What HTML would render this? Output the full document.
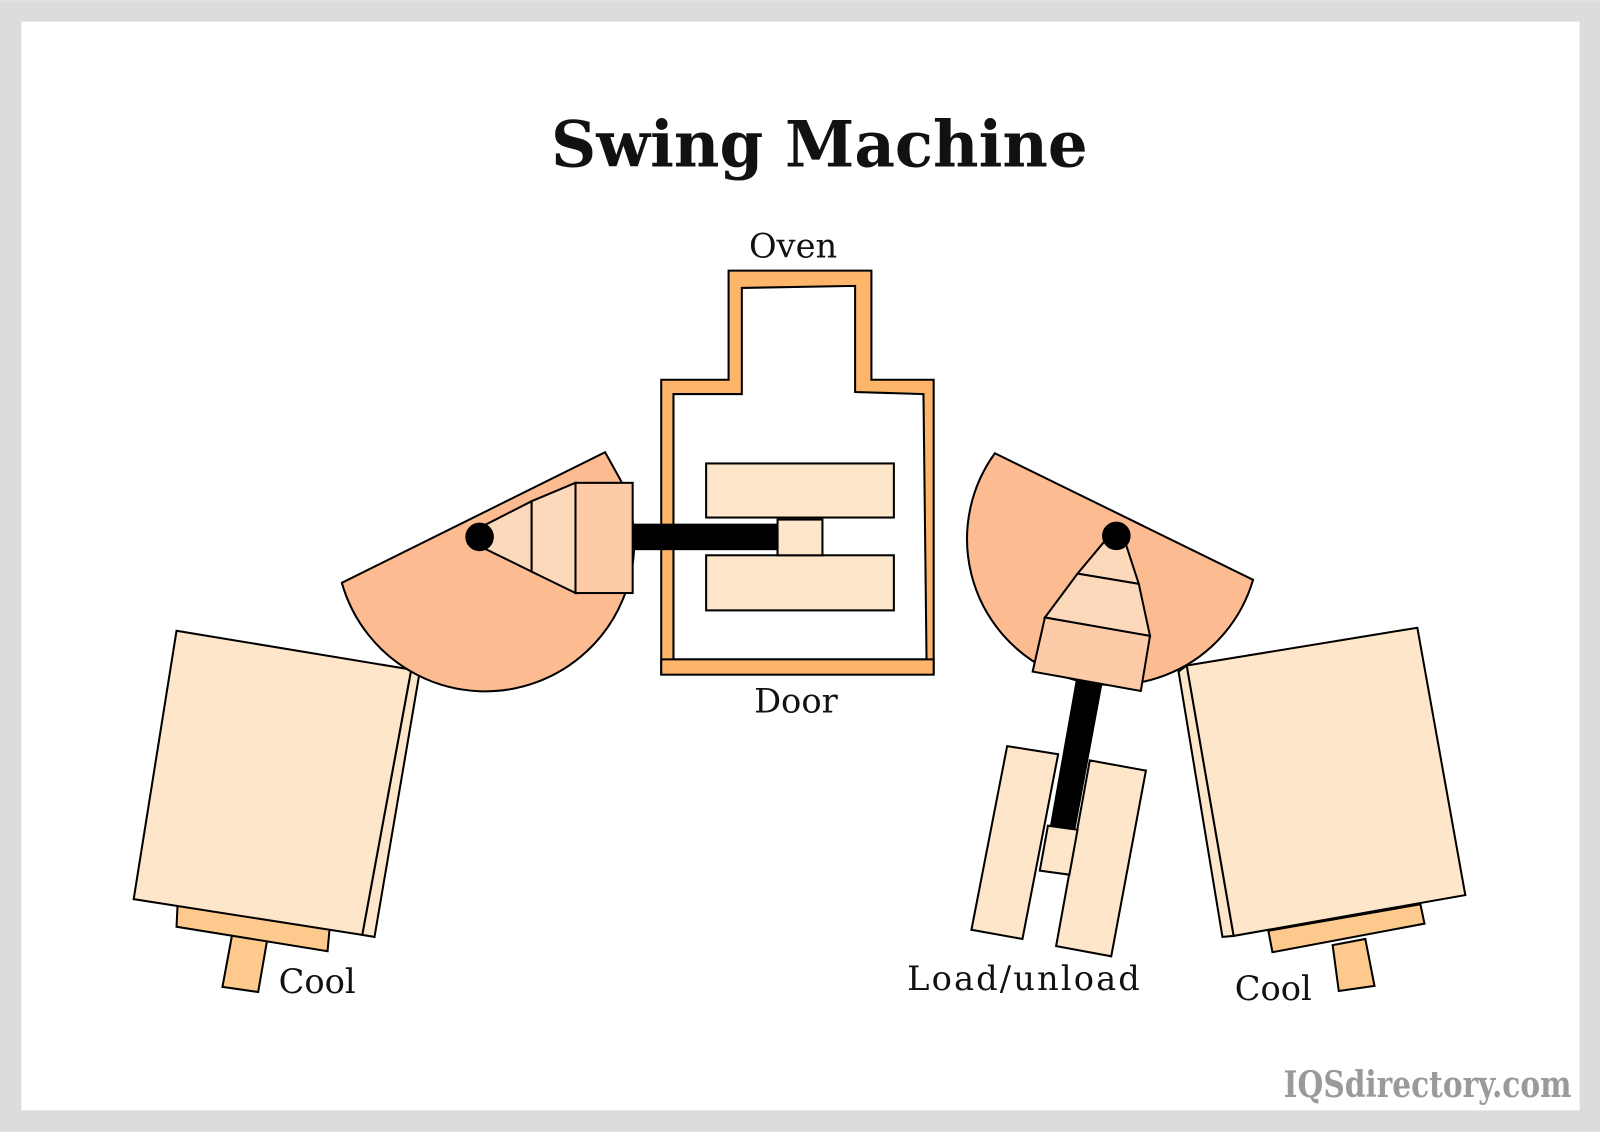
<!DOCTYPE html>
<html><head><style>html,body{margin:0;padding:0;background:#fff}svg{display:block}</style></head>
<body>
<svg width="1600" height="1132" viewBox="0 0 1568 1109" xmlns="http://www.w3.org/2000/svg" stroke-linejoin="miter">
<rect x="0" y="0" width="1568" height="1109" fill="#dcdcdc"/>
<rect x="21" y="21" width="1527" height="1067" fill="#fff"/>
<text x="540" y="163" font-family="DejaVu Serif, serif" font-weight="bold" font-size="62" fill="#111" textLength="526" lengthAdjust="spacingAndGlyphs">Swing Machine</text>
<g stroke="#000" stroke-width="2">
<polygon points="228,913 262,920 253,972 218,967" fill="#fdc98c"/>
<polygon points="174,887 323,910 321,932 173,908" fill="#fdc98c"/>
<polygon points="403,656 411,660 367,918 355,916" fill="#fde6c9"/>
<polygon points="173,618 403,656 355,916 131,881" fill="#fde6c9"/>
<path d="M335,571 L593,443 L608,470 A146 146 0 1 1 335,571 Z" fill="#fdbb92"/>
<polygon points="472,516 521,491 521,560 472,536" fill="#fdd9bb"/>
<polygon points="521,491 564,473 564,581 521,560" fill="#fdd9bb"/>
<rect x="564" y="473" width="56" height="108" fill="#fdcba8"/>
<circle cx="470" cy="526" r="13" fill="#000"/>
<polygon points="714,265 854,265 854,372 915,372 915,660 648,660 648,372 714,372" fill="#fdb56a"/>
<polygon points="727,282 838,280 838,384 905,386 908,646 660,646 660,386 727,386" fill="#fff"/>
<rect x="648" y="646" width="267" height="15" fill="#fdb56a"/>
<rect x="692" y="454" width="184" height="53" fill="#fde6c9"/>
<rect x="692" y="544" width="184" height="54" fill="#fde6c9"/>
<rect x="621" y="513" width="142" height="26" fill="#000" stroke="none"/>
<rect x="762" y="509" width="44" height="35" fill="#fde6c9"/>
<polygon points="1306,926 1338,920 1347,966 1312,971" fill="#fdc98c"/>
<polygon points="1243,912 1392,886 1396,905 1247,933" fill="#fdc98c"/>
<polygon points="1155,658 1163,652 1209,917 1198,918" fill="#fde6c9"/>
<polygon points="1163,652 1389,615 1436,877 1209,917" fill="#fde6c9"/>
<path d="M975,444 L1228,568 A143 143 0 1 1 975,444 Z" fill="#fdbb92"/>
<polygon points="987,731 1037,739 1002,920 952,911" fill="#fde6c9"/>
<polygon points="1068,745 1123,755 1089,937 1035,927" fill="#fde6c9"/>
<polygon points="1055,668 1079,672 1053,812 1030,809" fill="#000"/>
<polygon points="1027,809 1056,813 1048,857 1019,853" fill="#fde6c9"/>
<polygon points="1086,526 1101,526 1116,572 1056,562" fill="#fdd9bb"/>
<polygon points="1056,562 1116,572 1127,623 1024,605" fill="#fdd9bb"/>
<polygon points="1024,605 1127,623 1118,677 1012,658" fill="#fdcba8"/>
<circle cx="1094" cy="525" r="13" fill="#000"/>
</g>
<g font-family="DejaVu Serif, serif" font-size="33" fill="#111">
<text x="734" y="252">Oven</text>
<text x="739" y="698">Door</text>
<text x="273" y="973">Cool</text>
<text x="889" y="970" textLength="228" lengthAdjust="spacing">Load/unload</text>
<text x="1210" y="980">Cool</text>
</g>
<text x="1540" y="1075" text-anchor="end" font-family="DejaVu Serif, serif" font-weight="bold" font-size="36" fill="#9a9a9a" textLength="282" lengthAdjust="spacingAndGlyphs">IQSdirectory.com</text>
</svg>
</body></html>
